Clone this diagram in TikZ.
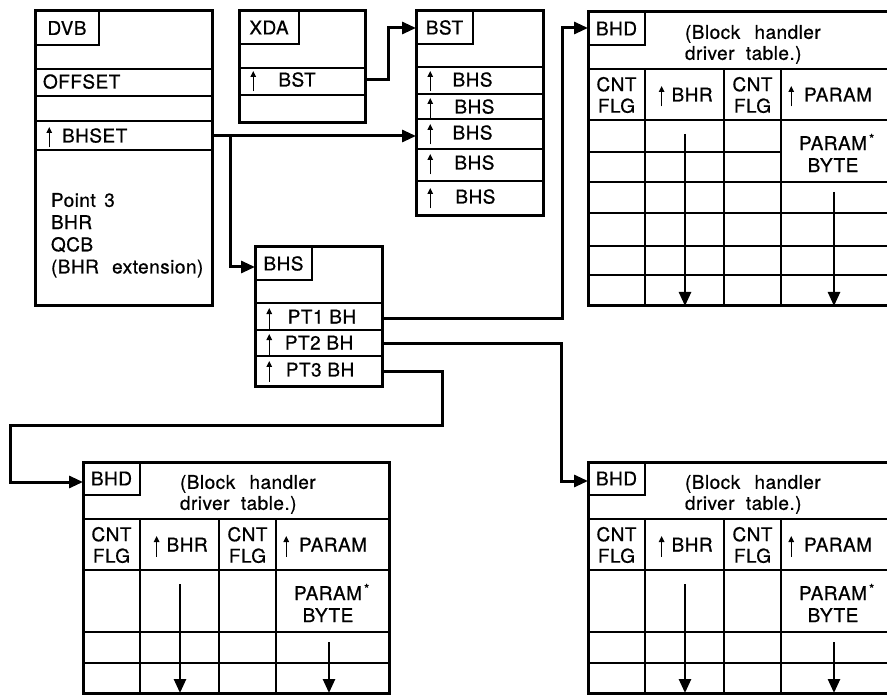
\documentclass[tikz,border=0pt]{standalone}
\usepackage{fontspec}
\setmainfont{TeX Gyre Heros}[FakeBold=0.7,LetterSpace=2.5]
\usetikzlibrary{arrows.meta}
\newcommand{\myfont}{\fontsize{19}{21}\selectfont}
\newcommand{\ua}{\hspace{1.5pt}\tikz[baseline=0pt,x=1pt,y=1pt]{\draw[line width=1.4pt,-{Triangle[length=6pt,width=5.5pt]}] (0,-5) -- (0,15.5);}\hspace{1.5pt}}
\newcommand{\bhdtab}[6]{% #1 name, #2 x, #3 y, #4 width, #5 height, #6 extra
\begin{scope}[shift={(#2,#3)}]
 \node[lbl, txt, minimum width=57pt, minimum height=33pt] (#1l) at (0,0) {BHD};
 \node[txt, anchor=north west, align=left] (#1t) at (97,13) {(Block\hspace{0.75em}handler\\driver\hspace{0.6em}table.)};
 \draw[headline] (0,57) -- (#4,57);
 \draw[rowline] (0,108) -- (#4,108) (0,170) -- (#4,170) (0,201) -- (#4,201);
 \draw[rowline] (57,57) -- (57,#5) (136,57) -- (136,#5) (193,57) -- (193,#5);
 #6
 \node[txt, align=center, font=\fontsize{19}{21.5}\selectfont] (#1c) at (28.5,83) {CNT\\FLG};
 \node[txt, anchor=base] (#1b) at (97,89.5) {\ua\hspace{0.3em}BHR};
 \node[txt, align=center, font=\fontsize{19}{21.5}\selectfont] (#1d) at (164.5,83) {CNT\\FLG};
 \node[txt, anchor=base west] (#1p) at (199,89.5) {\ua\hspace{0.45em}PARAM};
 \node[txt, align=center, font=\fontsize{19}{22}\selectfont] (#1q) at (245,141) {PARAM\rlap{\raisebox{0.35em}{\fontsize{13}{13}\selectfont\,*}}\\BYTE};
 \coordinate (#1a1) at (97,122); \coordinate (#1a2) at (97,#5);
 \coordinate (#1b1) at (246,180); \coordinate (#1b2) at (246,#5);
 \draw[downarr] (#1a1) -- (#1a2);
 \draw[downarr] (#1b1) -- (#1b2);
 \node[outerbox, minimum width=#4pt, minimum height=#5pt] (#1) at (0,0) {};
\end{scope}}
\begin{document}
\begin{tikzpicture}[x=1pt,y=-1pt,
 outerbox/.style={draw, line width=3pt, inner sep=0pt, outer sep=0pt, anchor=north west},
 lbl/.style={draw, line width=1.5pt, inner sep=0pt, outer sep=0pt, anchor=north west},
 rowline/.style={line width=1.8pt},
 headline/.style={line width=2.4pt},
 conn/.style={line width=3pt, -{Triangle[length=14pt,width=12pt]}},
 downarr/.style={line width=2.5pt, -{Triangle[length=14pt,width=12pt]}},
 txt/.style={font=\myfont, inner sep=0pt, outer sep=0pt},
]
\useasboundingbox (0,0) rectangle (887,695);
\fill[white] (0,0) rectangle (887,695);

% DVB
\draw[headline] (35,69) -- (212,69);
\draw[rowline] (35,96) -- (212,96) (35,121) -- (212,121) (35,150) -- (212,150);
\node[lbl, txt, minimum width=64pt, minimum height=34pt] (dvbl) at (35,11) {DVB};
\node[txt, anchor=base west] (offset) at (43,88.5) {OFFSET};
\node[txt, anchor=base west] (bhset) at (45,142.5) {\ua\hspace{0.45em}BHSET};
\node[txt, anchor=north west, align=left, font=\fontsize{19}{22.2}\selectfont] (pt3) at (51,193) {Point\hspace{0.45em}3\\BHR\\QCB\\(BHR\hspace{0.7em}extension)};
\node[outerbox, minimum width=177pt, minimum height=295pt] (dvb) at (35,11) {};

% XDA
\draw[rowline] (239,68) -- (365,68) (239,95) -- (365,95);
\node[lbl, txt, minimum width=60pt, minimum height=33pt] (xdal) at (239,11) {XDA};
\node[txt, anchor=base west] (xbst) at (249,86.5) {\ua\hspace{1.1em}BST};
\node[outerbox, minimum width=126pt, minimum height=112pt] (xda) at (239,11) {};

% BST
\draw[rowline] (416,67) -- (543,67) (416,94) -- (543,94) (416,119) -- (543,119) (416,149) -- (543,149) (416,181) -- (543,181);
\node[lbl, txt, minimum width=57pt, minimum height=33pt] (bstl) at (416,11) {BST};
\node[txt, anchor=base west] (bs1) at (426,86.5) {\ua\hspace{0.95em}BHS};
\node[txt, anchor=base west] (bs2) at (426,113.5) {\ua\hspace{1.05em}BHS};
\node[txt, anchor=base west] (bs3) at (426,139.5) {\ua\hspace{0.95em}BHS};
\node[txt, anchor=base west] (bs4) at (426,169.5) {\ua\hspace{1.05em}BHS};
\node[txt, anchor=base west] (bs5) at (426,203.5) {\ua\hspace{1.1em}BHS};
\node[outerbox, minimum width=127pt, minimum height=205pt] (bst) at (416,11) {};

% BHS
\draw[rowline] (255,303) -- (382,303) (255,330) -- (382,330) (255,356) -- (382,356);
\node[lbl, txt, minimum width=57pt, minimum height=33pt] (bhsl) at (255,247) {BHS};
\node[txt, anchor=base west] (p1) at (265,323.5) {\ua\hspace{0.75em}PT1 BH};
\node[txt, anchor=base west] (p2) at (265,349.5) {\ua\hspace{0.6em}PT2 BH};
\node[txt, anchor=base west] (p3) at (265,376.5) {\ua\hspace{0.65em}PT3 BH};
\node[outerbox, minimum width=127pt, minimum height=139pt] (bhs) at (255,247) {};

% BHD tables
\bhdtab{bhda}{588}{12}{320}{294}{\draw[rowline] (0,140) -- (193,140) (0,234) -- (320,234) (0,263) -- (320,263);}
\bhdtab{bhdb}{83}{462}{306}{231}{}
\bhdtab{bhdc}{588}{462}{320}{231}{}

% connectors
\coordinate (xdaout) at (365,80);
\coordinate (bstin) at (416,28);
\coordinate (dvbout) at (212,136);
\coordinate (bstin2) at (416,136);
\coordinate (junc) at (230,136);
\coordinate (bhsin) at (255,267);
\coordinate (pt1out) at (382,319);
\coordinate (pt2out) at (382,344);
\coordinate (pt3out) at (382,371);
\coordinate (bhdain) at (588,28);
\coordinate (bhdbin) at (83,482);
\coordinate (bhdcin) at (588,481);

\draw[conn] (xdaout) -- ++(23,0) |- (bstin);
\draw[conn] (dvbout) -- (bstin2);
\draw[conn] (junc) |- (bhsin);
\draw[conn] (pt1out) -- ++(180,0) |- (bhdain);
\draw[conn] (pt2out) -- ++(179,0) |- (bhdcin);
\draw[conn] (pt3out) -- ++(60,0) -- ++(0,54) -- ++(-432,0) |- (bhdbin);
\end{tikzpicture}
\end{document}
